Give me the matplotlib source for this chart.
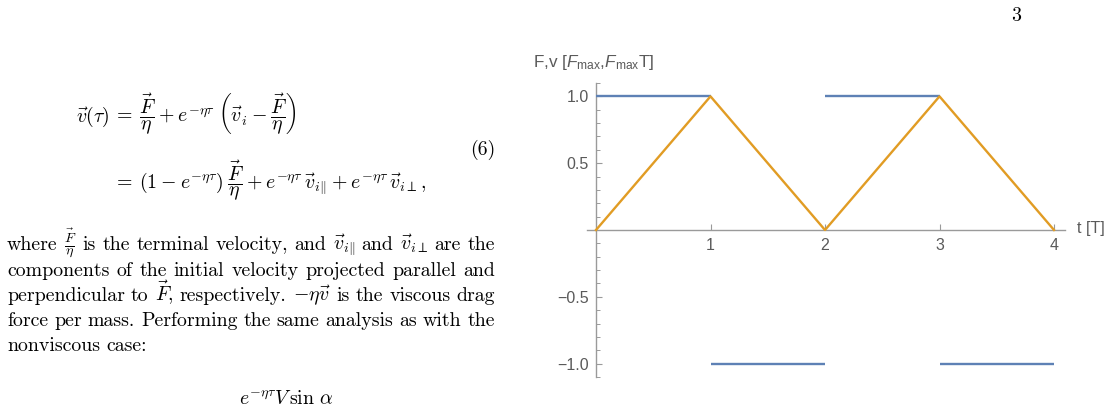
import matplotlib
matplotlib.use("Agg")
import matplotlib.pyplot as plt
from matplotlib.ticker import MultipleLocator, FixedLocator, NullLocator

# ---------------- data ----------------
force_t_start = [0, 1, 2, 3]
force_t_end = [1, 2, 3, 4]
force_values = [1, -1, 1, -1]
vel_t = [0, 1, 2, 3, 4]
vel_values = [0, 1, 0, 1, 0]
x_ticks = [1, 2, 3, 4]
x_tick_labels = ["1", "2", "3", "4"]
y_ticks = [-1.0, -0.5, 0.5, 1.0]
y_tick_labels = ["\u22121.0", "\u22120.5", "0.5", "1.0"]
x_label = "t [T]"
y_label = r"F,v [$F_{\mathrm{max}}$,$F_{\mathrm{max}}$T]"

W, H = 1111, 408
plt.rcParams['mathtext.fontset'] = 'custom'
plt.rcParams['mathtext.rm'] = 'Liberation Sans'
plt.rcParams['mathtext.it'] = 'Liberation Sans:italic'
plt.rcParams['mathtext.bf'] = 'Liberation Sans:bold'

fig = plt.figure(figsize=(W / 100, H / 100), dpi=100)


def P(x, y):
    return (x / W, 1 - y / H)

# ---------------- chart ----------------
ax = fig.add_axes([587 / W, 1 - 377 / H, 478 / W, 294 / H])
BLUE = "#5E81B5"
ORANGE = "#E19C24"
for t0, t1, fv in zip(force_t_start, force_t_end, force_values):
    ax.plot([t0, t1], [fv, fv], color=BLUE, lw=1.7, solid_capstyle='butt', zorder=3)
ax.plot(vel_t, vel_values, color=ORANGE, lw=1.7, zorder=4)
ax.set_xlim(-0.0786, 4.096)
ax.set_ylim(-1.1, 1.1)
for s in ['top', 'right']:
    ax.spines[s].set_visible(False)
ax.spines['left'].set_position(('data', 0))
ax.spines['bottom'].set_position(('data', 0))
AXC = "#9a9a9a"
for s in ['left', 'bottom']:
    ax.spines[s].set_color(AXC)
    ax.spines[s].set_linewidth(1.0)
ax.xaxis.set_major_locator(FixedLocator(x_ticks))
ax.set_xticklabels(x_tick_labels)
ax.xaxis.set_minor_locator(NullLocator())
ax.yaxis.set_major_locator(FixedLocator(y_ticks))
ax.set_yticklabels(y_tick_labels)
ax.yaxis.set_minor_locator(MultipleLocator(0.1))
ax.tick_params(axis='both', which='major', direction='in', color=AXC, length=4.5, width=0.8,
               labelcolor="#5a5a5a", labelsize=11.5)
ax.tick_params(axis='y', which='minor', direction='in', color=AXC, length=2.8, width=0.7)
ax.tick_params(axis='x', which='major', pad=6)
ax.tick_params(axis='y', which='major', pad=5)
for lab in ax.get_xticklabels() + ax.get_yticklabels():
    lab.set_fontfamily('Liberation Sans')
ax.patch.set_alpha(0)

fig.text(*P(1077, 229), x_label, fontsize=11.5, color="#5a5a5a", family='Liberation Sans',
         ha='left', va='center')
fig.text(*P(533, 62), y_label, fontsize=12.3, color="#5a5a5a", family='Liberation Sans',
         ha='left', va='center', math_fontfamily='custom')

# ---------------- page text ----------------
TXT = dict(color='black', math_fontfamily='cm', family='cmr10')
FS = 14.3
fig.text(*P(1016, 21), "3", fontsize=FS, ha='center', va='baseline', **TXT)

fig.text(*P(110, 122), r"$\vec{v}(\tau)$", fontsize=FS, ha='right', va='baseline', **TXT)
fig.text(*P(113, 122),
         r"$=\:\dfrac{\vec{F}}{\eta}\:+\:e^{-\eta\tau}\;\left(\vec{v}_i\:-\:\dfrac{\vec{F}}{\eta}\right)$",
         fontsize=FS, ha='left', va='baseline', **TXT)
fig.text(*P(113, 189),
         r"$=\:(1\:-\:e^{-\eta\tau})\:\dfrac{\vec{F}}{\eta}\:+\:e^{-\eta\tau}\,\vec{v}_{i\Vert}\:+\:e^{-\eta\tau}\,\vec{v}_{i\perp},$",
         fontsize=FS, ha='left', va='baseline', **TXT)
fig.text(*P(495, 155), "(6)", fontsize=FS, ha='right', va='baseline', **TXT)

lines = [
    ["where", r"$\frac{\vec{F}}{\eta}$", "is", "the", "terminal", "velocity,", "and",
     r"$\vec{v}_{i\Vert}$", "and", r"$\vec{v}_{i\perp}$", "are", "the"],
    ["components", "of", "the", "initial", "velocity", "projected", "parallel", "and"],
    ["perpendicular", "to", r"$\vec{F}$,", "respectively.", r"$-\eta\vec{v}$", "is", "the",
     "viscous", "drag"],
    ["force", "per", "mass.", "Performing", "the", "same", "analysis", "as", "with", "the"],
    ["nonviscous", "case:"],
]
baselines = [250, 276, 301, 326, 351]
LEFT, RIGHT = 7, 495
renderer = fig.canvas.get_renderer()
for li, (words, yb) in enumerate(zip(lines, baselines)):
    objs = [fig.text(*P(LEFT, yb), w, fontsize=FS, ha='left', va='baseline', **TXT) for w in words]
    widths = [o.get_window_extent(renderer).width for o in objs]
    if li < len(lines) - 1:
        gap = (RIGHT - LEFT - sum(widths)) / (len(words) - 1)
    else:
        gap = 6.0
    x = LEFT
    for o, wd in zip(objs, widths):
        o.set_position(P(x, yb))
        x += wd + gap

fig.text(*P(286, 404), r"$e^{-\eta\tau}V\,\sin\,\alpha$", fontsize=FS, ha='center',
         va='baseline', **TXT)

fig.savefig("out.png", dpi=100)
